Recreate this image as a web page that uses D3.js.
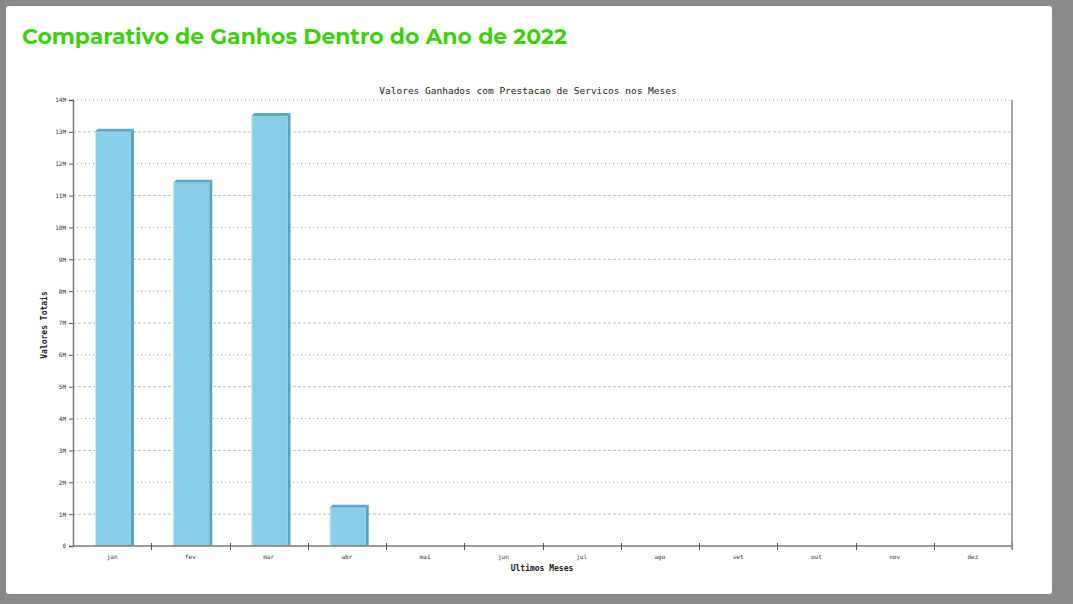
<!DOCTYPE html>
<html><head><meta charset="utf-8">
<script src="https://cdn.jsdelivr.net/npm/d3@7"></script>
<style>
html,body{margin:0;padding:0;background:#8a8a8a;}
svg{display:block;}
</style></head>
<body>
<svg id="c" width="1073" height="604"></svg>
<script>
const months = ["jan","fev","mar","abr","mai","jun","jul","ago","set","out","nov","dez"];
const values = [13.0, 11.4, 13.5, 1.2, 0, 0, 0, 0, 0, 0, 0, 0]; // millions
const yTicks = [0,1,2,3,4,5,6,7,8,9,10,11,12,13,14];
const pageTitle = "Comparativo de Ganhos Dentro do Ano de 2022";
const chartTitle = "Valores Ganhados com Prestacao de Servicos nos Meses";
const xTitle = "Ultimos Meses";
const yTitle = "Valores Totais";

const svg = d3.select("#c");
svg.append("rect").attr("x",0).attr("y",0).attr("width",1073).attr("height",604).attr("fill","#8a8a8a");
svg.append("rect").attr("x",6).attr("y",6).attr("width",1046).attr("height",588).attr("rx",3).attr("fill","#ffffff");

svg.append("text").attr("x",22).attr("y",44)
  .attr("font-family","Montserrat, 'Open Sans', sans-serif").attr("font-weight","bold")
  .attr("font-size",22).attr("fill","#3fcf0e")
  .attr("textLength",545).attr("lengthAdjust","spacingAndGlyphs")
  .text(pageTitle);

const L=73, R=1012, T=100, B=546;
const x = d3.scaleBand().domain(months).range([L,R]);
const y = d3.scaleLinear().domain([0,14]).range([B,T]);

const g = svg.append("g");
// grid
g.selectAll("line.grid").data(yTicks.filter(d=>d>0)).join("line")
  .attr("x1",L).attr("x2",R).attr("y1",d=>y(d)).attr("y2",d=>y(d))
  .attr("stroke",d=>d%2===0?"#9a9a9a":"#bdbdbd")
  .attr("stroke-width",1)
  .attr("stroke-dasharray",d=>d%2===0?"1,3":"3,2");

// bars with 3D effect
const bw = 36, depth = 3;
const bars = g.selectAll("g.bar").data(months.map((m,i)=>({m,v:values[i]})).filter(d=>d.v>0)).join("g");
bars.each(function(d){
  const s = d3.select(this);
  const x0 = x(d.m) + 22, yt = y(d.v);
  // side
  s.append("path").attr("d",`M${x0+bw},${yt} L${x0+bw+depth},${yt-depth} L${x0+bw+depth},${B-1} L${x0+bw},${B} Z`).attr("fill","#5aa2bf");
  // top
  s.append("path").attr("d",`M${x0},${yt} L${x0+depth},${yt-depth} L${x0+bw+depth},${yt-depth} L${x0+bw},${yt} Z`).attr("fill","#5ea8c6");
  // face
  s.append("rect").attr("x",x0).attr("y",yt).attr("width",bw).attr("height",B-yt).attr("fill","#87ceeb");
  s.append("line").attr("x1",x0+0.5).attr("x2",x0+0.5).attr("y1",yt).attr("y2",B).attr("stroke","#c4e8f6").attr("stroke-width",1);
});

// axes
const yAxis = d3.axisLeft(y).tickValues(yTicks).tickSize(4)
  .tickFormat(d=>d===0?"0":d+"M");
const ya = svg.append("g").attr("transform",`translate(${L},0)`).call(yAxis);
ya.select(".domain").attr("stroke","#777").attr("stroke-width",1.5);
ya.selectAll(".tick line").attr("stroke","#555");
ya.selectAll("text").attr("font-family","'DejaVu Sans Mono', monospace").attr("font-size",6).attr("fill","#333").attr("x",-7);

const xa = svg.append("g").attr("transform",`translate(0,${B})`)
  .call(d3.axisBottom(x).tickSize(0).tickPadding(9));
xa.select(".domain").remove();
xa.selectAll("text").attr("font-family","'DejaVu Sans Mono', monospace").attr("font-size",6).attr("fill","#333");
svg.append("line").attr("x1",L).attr("x2",R).attr("y1",B).attr("y2",B).attr("stroke","#777").attr("stroke-width",1.5);
svg.selectAll("line.xt").data(months.slice(1).concat(["end"])).join("line")
  .attr("x1",(d,i)=>Math.round(L+x.step()*(i+1))+0.5).attr("x2",(d,i)=>Math.round(L+x.step()*(i+1))+0.5)
  .attr("y1",B-3).attr("y2",B+4).attr("stroke","#555");
svg.append("line").attr("x1",R).attr("x2",R).attr("y1",T).attr("y2",B+4).attr("stroke","#888").attr("stroke-width",1.5);

// titles
svg.append("text").attr("x",528).attr("y",94).attr("text-anchor","middle")
  .attr("font-family","'DejaVu Sans Mono', monospace").attr("font-size",9.5).attr("fill","#222")
  .text(chartTitle);
svg.append("text").attr("x",542).attr("y",571).attr("text-anchor","middle")
  .attr("font-family","'DejaVu Sans Mono', monospace").attr("font-weight","bold").attr("font-size",8).attr("fill","#222")
  .text(xTitle);
svg.append("text").attr("transform","translate(47,325) rotate(-90)").attr("text-anchor","middle")
  .attr("font-family","'DejaVu Sans Mono', monospace").attr("font-weight","bold").attr("font-size",8).attr("fill","#222")
  .text(yTitle);
</script>
</body></html>
